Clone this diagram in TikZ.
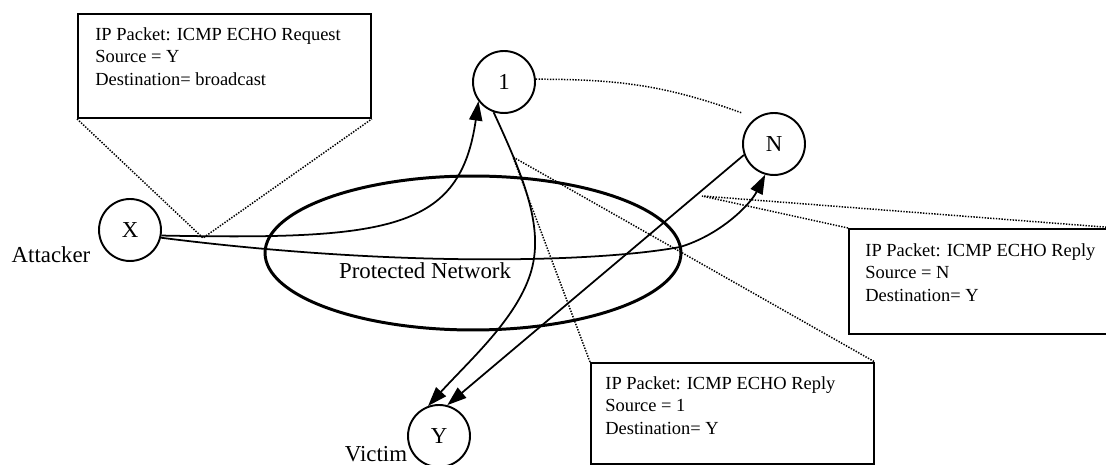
\documentclass[tikz,border=0pt]{standalone}
\usepackage{fontspec}
\setmainfont{Liberation Serif}
\usepackage{tikz}
\usetikzlibrary{arrows.meta,positioning,shapes.geometric,calc}

\begin{document}
\begin{tikzpicture}[x=0.02cm,y=-0.02cm,font=\fontsize{13}{15}\selectfont,
  host/.style={circle,draw,line width=1.1pt,minimum size=1.24cm,inner sep=0pt},
  pkt/.style={draw,line width=1.1pt,anchor=north west,inner sep=0pt},
  pkttxt/.style={anchor=north west,align=left,inner sep=0pt,font=\fontsize{10.5}{12.8}\selectfont},
  flow/.style={line width=1pt,-{Triangle[length=11pt,width=7.5pt]}},
  lead/.style={line width=0.85pt,dash pattern=on 0.8pt off 0.8pt}]
\clip (0,0) rectangle (1106,465);
% hosts
\node[host] (X) at (130,230) {X};
\node[host] (one) at (504,82) {1};
\node[host] (N) at (774,144) {N};
\node[host] (Y) at (439,436) {Y};
\node[anchor=base] (att) at (51,263) {Attacker};
\node[anchor=base] (vic) at (376,462) {Victim};
% network
\node[ellipse,draw,line width=1.7pt,minimum width=8.32cm,minimum height=3.08cm] (net) at (473,253) {};
\node[anchor=base] (netlbl) at (425,279) {Protected Network};
% packets
\node[pkt,minimum width=5.86cm,minimum height=2.08cm] (req) at (77,13) {};
\node[pkttxt] (reqtxt) at ($(req.north west)+(18,14)$) {IP Packet: ICMP ECHO Request\\Source = Y\\Destination= broadcast};
\node[pkt,minimum width=5.66cm,minimum height=2.02cm] (rep1) at (590,362) {};
\node[pkttxt] (rep1txt) at ($(rep1.north west)+(15,14)$) {IP Packet: ICMP ECHO Reply\\Source = 1\\Destination= Y};
\node[pkt,minimum width=5.34cm,minimum height=2.1cm] (repN) at (848,228) {};
\node[pkttxt] (repNtxt) at ($(repN.north west)+(17,15)$) {IP Packet: ICMP ECHO Reply\\Source = N\\Destination= Y};
% traffic
\draw[flow] (X.-10) .. controls (390,240) and (460,230) .. (one.217);
\draw[flow] (X.-14) .. controls (400,268) and (600,262) .. (680,247)
  .. controls (720,235) and (750,205) .. (N.254);
\draw[flow] (one.251) .. controls (525,180) and (545,230) .. (530,275)
  .. controls (515,320) and (470,360) .. (Y.110);
\draw[flow] (N.200) -- (Y.75);
% leaders
\coordinate (tapX) at (203,238);
\coordinate (tap1) at (513,157);
\coordinate (tapN) at (702,196);
\coordinate (ndot) at (742,113);
\draw[lead] (req.south west) -- (tapX) -- (req.south east);
\draw[lead] (rep1.north west) -- (tap1) -- (rep1.north east);
\draw[lead] (repN.north west) -- (tapN) -- (repN.north east);
\draw[lead] (one.5) to[out=0,in=160] (ndot);
\end{tikzpicture}
\end{document}
